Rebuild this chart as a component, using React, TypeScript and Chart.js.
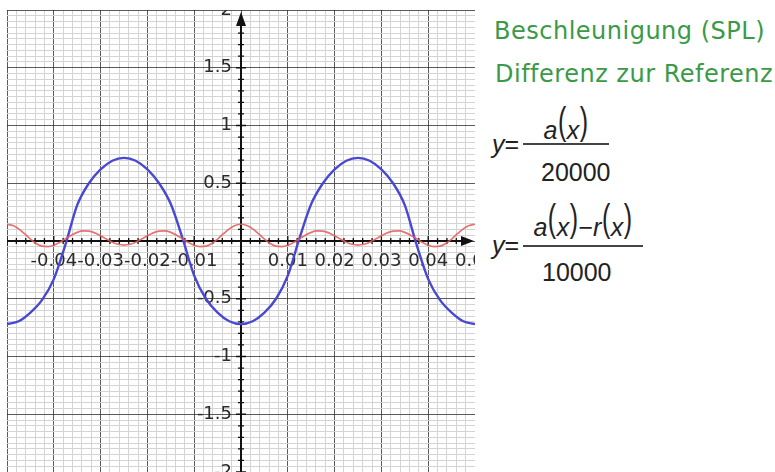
import React, { useEffect, useRef } from "react";
import { Chart, registerables } from "chart.js";

Chart.register(...registerables);

// Beschleunigung a(x)/20000, sampled every 0.0025 s
const blueX = [
  -0.05, -0.0475, -0.045, -0.0425, -0.04, -0.0375, -0.035, -0.0325, -0.03, -0.0275,
  -0.025, -0.0225, -0.02, -0.0175, -0.015, -0.0125, -0.01, -0.0075, -0.005, -0.0025,
  0, 0.0025, 0.005, 0.0075, 0.01, 0.0125, 0.015, 0.0175, 0.02, 0.0225,
  0.025, 0.0275, 0.03, 0.0325, 0.035, 0.0375, 0.04, 0.0425, 0.045, 0.0475, 0.05,
];
const blueY = [
  -0.72, -0.695, -0.62, -0.51, -0.33, -0.03, 0.31, 0.5, 0.62, 0.695,
  0.72, 0.695, 0.62, 0.5, 0.32, 0.025, -0.3, -0.5, -0.62, -0.695,
  -0.72, -0.695, -0.62, -0.5, -0.3, 0.025, 0.32, 0.5, 0.62, 0.695,
  0.72, 0.695, 0.62, 0.5, 0.31, -0.03, -0.33, -0.51, -0.62, -0.695, -0.72,
];

// Differenz (a(x) - r(x))/10000, sampled every 0.00125 s
const redX = [
  -0.05, -0.04875, -0.0475, -0.04625, -0.045, -0.04375, -0.0425, -0.04125, -0.04, -0.03875,
  -0.0375, -0.03625, -0.035, -0.03375, -0.0325, -0.03125, -0.03, -0.02875, -0.0275, -0.02625,
  -0.025, -0.02375, -0.0225, -0.02125, -0.02, -0.01875, -0.0175, -0.01625, -0.015, -0.01375,
  -0.0125, -0.01125, -0.01, -0.00875, -0.0075, -0.00625, -0.005, -0.00375, -0.0025, -0.00125,
  0,
  0.00125, 0.0025, 0.00375, 0.005, 0.00625, 0.0075, 0.00875, 0.01, 0.01125, 0.0125,
  0.01375, 0.015, 0.01625, 0.0175, 0.01875, 0.02, 0.02125, 0.0225, 0.02375, 0.025,
  0.02625, 0.0275, 0.02875, 0.03, 0.03125, 0.0325, 0.03375, 0.035, 0.03625, 0.0375,
  0.03875, 0.04, 0.04125, 0.0425, 0.04375, 0.045, 0.04625, 0.0475, 0.04875, 0.05,
];
const redY = [
  0.145, 0.134, 0.105, 0.063, 0.017, -0.021, -0.045, -0.049, -0.037, -0.012,
  0.019, 0.05, 0.075, 0.087, 0.085, 0.07, 0.045, 0.017, -0.01, -0.028,
  -0.035, -0.028, -0.01, 0.017, 0.045, 0.07, 0.085, 0.087, 0.075, 0.05,
  0.019, -0.012, -0.037, -0.049, -0.045, -0.021, 0.017, 0.063, 0.105, 0.134,
  0.145,
  0.134, 0.105, 0.063, 0.017, -0.021, -0.045, -0.049, -0.037, -0.012, 0.019,
  0.05, 0.075, 0.087, 0.085, 0.07, 0.045, 0.017, -0.01, -0.028, -0.035,
  -0.028, -0.01, 0.017, 0.045, 0.07, 0.085, 0.087, 0.075, 0.05, 0.019,
  -0.012, -0.037, -0.049, -0.045, -0.021, 0.017, 0.063, 0.105, 0.134, 0.145,
];

const xTickValues = [-0.04, -0.03, -0.02, -0.01, 0.01, 0.02, 0.03, 0.04, 0.05];
const xTickLabels = ["-0.04", "-0.03", "-0.02", "-0.01", "0.01", "0.02", "0.03", "0.04", "0.05"];
const yTickValues = [2, 1.5, 1, 0.5, -0.5, -1, -1.5, -2];
const yTickLabels = ["2", "1.5", "1", "0.5", "-0.5", "-1", "-1.5", "-2"];

const seriesTitles = ["Beschleunigung (SPL)", "Differenz zur Referenz"];

const isMultiple = (v: number, step: number) =>
  Math.abs(v / step - Math.round(v / step)) < 1e-6;

const MAJOR = "rgba(50,50,50,0.8)";
const MINOR = "#d4d4d4";

// Axes through the origin, with arrows, tick marks and labels
const originAxes = {
  id: "originAxes",
  beforeDatasetsDraw(chart: any) {
    const { ctx, chartArea: a, scales } = chart;
    const x = scales.x;
    const y = scales.y;
    const x0 = Math.round(x.getPixelForValue(0));
    const y0 = Math.round(y.getPixelForValue(0));
    ctx.save();
    ctx.beginPath();
    ctx.rect(a.left, a.top, a.right - a.left, a.bottom - a.top);
    ctx.clip();

    ctx.font = '18px "DejaVu Sans"';
    ctx.fillStyle = "#2a2a2a";
    ctx.textAlign = "center";
    ctx.textBaseline = "middle";
    xTickValues.forEach((v, i) => ctx.fillText(xTickLabels[i], x.getPixelForValue(v), y0 + 20));
    ctx.textAlign = "right";
    yTickValues.forEach((v, i) => ctx.fillText(yTickLabels[i], x0 - 9, y.getPixelForValue(v)));

    ctx.strokeStyle = "#111";
    ctx.lineWidth = 2;
    ctx.beginPath();
    ctx.moveTo(a.left, y0);
    ctx.lineTo(a.right - 6, y0);
    ctx.moveTo(x0, a.bottom);
    ctx.lineTo(x0, a.top + 6);
    ctx.stroke();

    ctx.lineWidth = 1.3;
    ctx.beginPath();
    x.ticks.forEach((t: any) => {
      if (Math.abs(t.value) < 1e-9) return;
      const px = x.getPixelForValue(t.value);
      if (px > a.right - 12) return;
      const h = isMultiple(t.value, 0.01) ? 5 : 3;
      ctx.moveTo(px, y0 - h);
      ctx.lineTo(px, y0 + h);
    });
    y.ticks.forEach((t: any) => {
      if (Math.abs(t.value) < 1e-9 || !isMultiple(t.value, 0.1)) return;
      const py = y.getPixelForValue(t.value);
      if (py < a.top + 14) return;
      const h = isMultiple(t.value, 0.5) ? 5 : 3;
      ctx.moveTo(x0 - h, py);
      ctx.lineTo(x0 + h, py);
    });
    ctx.stroke();

    ctx.fillStyle = "#111";
    ctx.beginPath();
    ctx.moveTo(x0, a.top + 2);
    ctx.lineTo(x0 - 5, a.top + 16);
    ctx.lineTo(x0 + 5, a.top + 16);
    ctx.closePath();
    ctx.fill();
    ctx.beginPath();
    ctx.moveTo(a.right - 1, y0);
    ctx.lineTo(a.right - 14, y0 - 5);
    ctx.lineTo(a.right - 14, y0 + 5);
    ctx.closePath();
    ctx.fill();
    ctx.restore();
  },
};

function Txt(props: {
  left: number;
  baseline: number;
  size: number;
  family?: string;
  color?: string;
  width?: number;
  align?: "left" | "center";
  spacing?: number;
  children: React.ReactNode;
}) {
  const { left, baseline, size, family, color, width, align, spacing, children } = props;
  return (
    <div
      style={{
        position: "absolute",
        left,
        top: baseline - 0.846 * size,
        width,
        textAlign: align || "left",
        fontSize: size,
        lineHeight: `${size}px`,
        fontFamily: family || '"Liberation Sans", Arial, sans-serif',
        color: color || "#222",
        whiteSpace: "nowrap",
        letterSpacing: spacing ? `${spacing}px` : undefined,
      }}
    >
      {children}
    </div>
  );
}

const Paren = ({ ch }: { ch: string }) => (
  <span
    style={{
      display: "inline-block",
      transformOrigin: "50% 15px",
      transform: "translateY(-8px) scaleY(1.55)",
      margin: "0 0.5px",
    }}
  >
    {ch}
  </span>
);

const I = ({ children }: { children: React.ReactNode }) => (
  <span style={{ fontStyle: "italic" }}>{children}</span>
);

function Bar({ left, top, width }: { left: number; top: number; width: number }) {
  return (
    <div style={{ position: "absolute", left, top, width, height: 1.6, background: "#444" }} />
  );
}

export default function App() {
  const canvasRef = useRef<HTMLCanvasElement>(null);

  useEffect(() => {
    const canvas = canvasRef.current;
    if (!canvas) return;
    const chart = new Chart(canvas, {
      type: "scatter",
      data: {
        datasets: [
          {
            label: seriesTitles[1],
            data: redX.map((v, i) => ({ x: v, y: redY[i] })),
            showLine: true,
            borderColor: "rgba(228,90,90,0.85)",
            borderWidth: 1.7,
            pointRadius: 0,
            cubicInterpolationMode: "monotone",
            order: 0,
          },
          {
            label: seriesTitles[0],
            data: blueX.map((v, i) => ({ x: v, y: blueY[i] })),
            showLine: true,
            borderColor: "rgb(72,72,210)",
            borderWidth: 2.4,
            pointRadius: 0,
            cubicInterpolationMode: "monotone",
            order: 1,
          },
        ],
      },
      options: {
        responsive: false,
        animation: false,
        devicePixelRatio: 1,
        layout: { padding: { left: 7, top: 10, right: 0, bottom: 0 } },
        plugins: { legend: { display: false }, tooltip: { enabled: false } },
        scales: {
          x: {
            type: "linear",
            min: -0.05,
            max: 0.05,
            ticks: { display: false, stepSize: 0.002 },
            grid: {
              drawTicks: false,
              lineWidth: 1,
              color: (c: any) => (isMultiple(c.tick.value, 0.01) ? MAJOR : MINOR),
            },
            border: { display: false },
          },
          y: {
            type: "linear",
            min: -2,
            max: 2,
            ticks: { display: false, stepSize: 0.05 },
            grid: {
              drawTicks: false,
              lineWidth: 1,
              color: (c: any) => (isMultiple(c.tick.value, 0.5) ? MAJOR : MINOR),
            },
            border: { display: false },
          },
        },
      },
      plugins: [originAxes],
    });
    return () => chart.destroy();
  }, []);

  return (
    <div
      style={{
        position: "fixed",
        left: 0,
        top: 0,
        width: 775,
        height: 472,
        background: "#fff",
        overflow: "hidden",
      }}
    >
      <canvas
        ref={canvasRef}
        width={475}
        height={472}
        style={{ position: "absolute", left: 0, top: 0, width: 475, height: 472 }}
      />
      <Txt left={494} baseline={39} size={24} family='"DejaVu Sans", sans-serif' color="#3a9a47" spacing={0.5}>
        {seriesTitles[0]}
      </Txt>
      <Txt left={495} baseline={82} size={24} family='"DejaVu Sans", sans-serif' color="#3a9a47" spacing={0.5}>
        {seriesTitles[1]}
      </Txt>

      <Txt left={492} baseline={153} size={25}>
        <I>y</I>=
      </Txt>
      <Txt left={523} width={86} align="center" baseline={139} size={25}>
        <I>a</I>
        <Paren ch="(" />
        <I>x</I>
        <Paren ch=")" />
      </Txt>
      <Bar left={523} top={143} width={86} />
      <Txt left={541} baseline={181} size={25}>
        20000
      </Txt>

      <Txt left={492} baseline={254} size={25}>
        <I>y</I>=
      </Txt>
      <Txt left={523} width={120} align="center" baseline={236} size={25}>
        <I>a</I>
        <Paren ch="(" />
        <I>x</I>
        <Paren ch=")" />−<I>r</I>
        <Paren ch="(" />
        <I>x</I>
        <Paren ch=")" />
      </Txt>
      <Bar left={523} top={245} width={120} />
      <Txt left={542} baseline={281} size={25}>
        10000
      </Txt>
    </div>
  );
}
